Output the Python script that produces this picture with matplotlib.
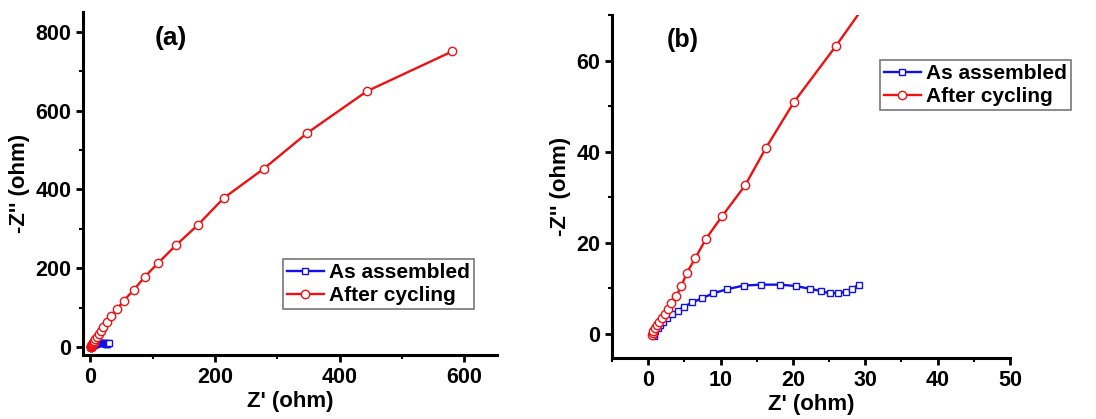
import matplotlib
matplotlib.use("Agg")
import matplotlib.pyplot as plt
from matplotlib.ticker import MultipleLocator

plt.rcParams['font.family'] = ['Liberation Sans', 'DejaVu Sans']
plt.rcParams['font.weight'] = 'bold'

# After cycling (red circles)
after_x = [0.5, 0.6, 0.7, 0.9, 1.2, 1.5, 1.9, 2.3, 2.8, 3.2, 3.9, 4.6, 5.3, 6.5, 8.0,
           10.2, 13.4, 16.3, 20.2, 25.9, 33, 42.8, 53.5, 69.5, 87, 108.5, 137, 172,
           214, 278, 348, 444, 581]
after_y = [-0.2, 0.1, 0.6, 1.2, 1.9, 2.6, 3.4, 4.3, 5.4, 6.7, 8.4, 10.5, 13.3, 16.6, 20.9,
           25.8, 32.6, 40.9, 51.0, 63.1, 79, 97, 118, 145, 178, 213, 258, 309,
           378, 452, 543, 649, 750]

# As assembled (blue squares)
asm_x = [0.8, 0.8, 1.0, 1.3, 1.6, 2.1, 2.65, 3.3, 4.1, 5.0, 6.1, 7.4, 9.0, 10.9,
         13.2, 15.6, 18.2, 20.4, 22.3, 23.9, 25.1, 26.2, 27.3, 28.1, 29.1]
asm_y = [-0.4, 0.0, 0.6, 1.2, 1.9, 2.6, 3.4, 4.3, 5.1, 6.0, 6.9, 7.8, 8.9, 9.8,
         10.6, 10.8, 10.8, 10.5, 9.9, 9.4, 8.9, 9.0, 9.2, 9.8, 10.8]

labels = ["As assembled", "After cycling"]
panel_tags = ["(a)", "(b)"]

BLUE = '#1010e8'
RED = '#ee1111'

fig = plt.figure(figsize=(10.96, 4.19), dpi=100)
axA = fig.add_axes([0.0757, 0.1527, 0.3778, 0.8187])
axB = fig.add_axes([0.5584, 0.1456, 0.3631, 0.8186])

def style(ax):
    for s in ['top', 'right']:
        ax.spines[s].set_visible(False)
    for s in ['left', 'bottom']:
        ax.spines[s].set_linewidth(2.2)
    ax.tick_params(which='major', direction='out', length=5, width=2, labelsize=15.5)
    ax.tick_params(which='minor', direction='out', length=3, width=1.5)
    for lab in ax.get_xticklabels() + ax.get_yticklabels():
        lab.set_fontweight('bold')
    ax.set_xlabel("Z' (ohm)", fontsize=16, fontweight='bold', labelpad=2)
    ax.set_ylabel("-Z'' (ohm)", fontsize=16, fontweight='bold', labelpad=4)

for ax in (axA, axB):
    ax.plot(asm_x, asm_y, color=BLUE, lw=1.7, marker='s', ms=5, mfc='white',
            mec=BLUE, mew=1.0, label=labels[0])
    ax.plot(after_x, after_y, color=RED, lw=1.7, marker='o', ms=6, mfc='white',
            mec=RED, mew=1.0, label=labels[1])

axA.set_xlim(-12, 653)
axA.set_ylim(-20, 850)
axA.xaxis.set_major_locator(MultipleLocator(200))
axA.xaxis.set_minor_locator(MultipleLocator(100))
axA.yaxis.set_major_locator(MultipleLocator(200))
axA.yaxis.set_minor_locator(MultipleLocator(100))

axB.set_xlim(-5, 50)
axB.set_ylim(-5.3, 70)
axB.xaxis.set_major_locator(MultipleLocator(10))
axB.xaxis.set_minor_locator(MultipleLocator(5))
axB.yaxis.set_major_locator(MultipleLocator(20))
axB.yaxis.set_minor_locator(MultipleLocator(10))

for ax in (axA, axB):
    style(ax)

axA.text(171/1096, 1 - 38/419, panel_tags[0], transform=fig.transFigure,
         fontsize=19, fontweight='bold', ha='center', va='center')
axB.text(683/1096, 1 - 40/419, panel_tags[1], transform=fig.transFigure,
         fontsize=18, fontweight='bold', ha='center', va='center')

leg_kw = dict(loc='upper left', bbox_transform=fig.transFigure, borderaxespad=0,
              fancybox=False, framealpha=1, edgecolor='#777777',
              prop={'weight': 'bold', 'size': 15}, handlelength=1.75,
              handletextpad=0.25, labelspacing=0.2, borderpad=0.2)
lg = axA.legend(bbox_to_anchor=(283/1096, 1 - 259/419), **leg_kw)
lg.get_frame().set_linewidth(1.2)
lg = axB.legend(bbox_to_anchor=(880/1096, 1 - 60/419), **leg_kw)
lg.get_frame().set_linewidth(1.2)

fig.savefig("out.png", dpi=100)
